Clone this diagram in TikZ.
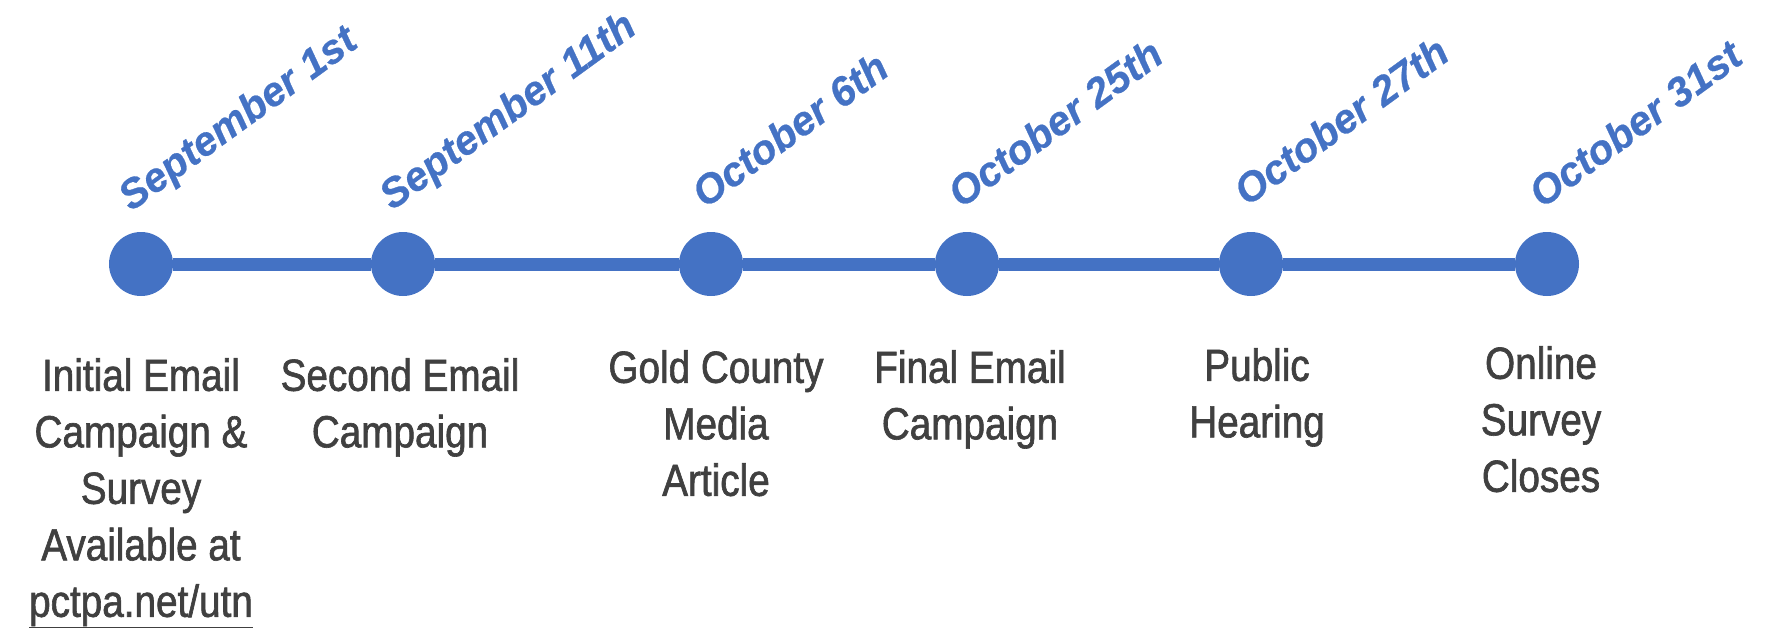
\documentclass[tikz,border=0pt]{standalone}
\usepackage{fontspec}
\setmainfont{Liberation Sans}
\newfontfamily\eventfont[FakeStretch=0.86,FakeBold=1.4]{Liberation Sans}
\newfontfamily\datefont[FakeBold=0.6]{Liberation Sans}
\usepackage{tikz}
\usetikzlibrary{
	positioning
}
\definecolor{tlblue}{HTML}{4472C4}
\definecolor{tlgray}{HTML}{404040}

\begin{document}
\begin{tikzpicture}[x=1pt,y=-1pt,
		milestone/.style={circle,fill=tlblue,minimum size=64pt,inner sep=0pt},
		datelabel/.style={anchor=base west,rotate=36,inner sep=0pt,text=tlblue,
			font=\datefont\bfseries\itshape\fontsize{41}{48}\selectfont},
		eventlabel/.style={anchor=north,align=center,inner sep=0pt,text=tlgray,
			font=\eventfont\fontsize{45}{56.5}\selectfont},
		timeline/.style={draw=tlblue,line width=13pt}]
		\useasboundingbox (0,0) rectangle (1780,630);

		\draw
			node [milestone] (m1) at (141,264)  {}
			node [milestone] (m2) at (403,264)  {}
			node [milestone] (m3) at (711,264)  {}
			node [milestone] (m4) at (967,264)  {}
			node [milestone] (m5) at (1251,264) {}
			node [milestone] (m6) at (1547,264) {}
		;
		\draw [timeline] (m1) -- (m2) -- (m3) -- (m4) -- (m5) -- (m6);

		% dates above
		\node [datelabel] (d1) at (131,212)  {September 1st};
		\node [datelabel] (d2) at (392,211)  {September 11th};
		\node [datelabel] (d3) at (705,209)  {October 6th};
		\node [datelabel] (d4) at (961,209)  {October 25th};
		\node [datelabel] (d5) at (1247,207) {October 27th};
		\node [datelabel] (d6) at (1542,209) {October 31st};

		% events below
		\node [eventlabel] (t1) at (141,358)  {Initial Email\\Campaign \&\\Survey\\Available at\\\underline{pctpa.net/utn}};
		\node [eventlabel] (t2) at (400,358)  {Second Email\\Campaign};
		\node [eventlabel] (t3) at (716,350)  {Gold County\\Media\\Article};
		\node [eventlabel] (t4) at (970,350)  {Final Email\\Campaign};
		\node [eventlabel] (t5) at (1257,348) {Public\\Hearing};
		\node [eventlabel] (t6) at (1541,346) {Online\\Survey\\Closes};
\end{tikzpicture}
\end{document}
